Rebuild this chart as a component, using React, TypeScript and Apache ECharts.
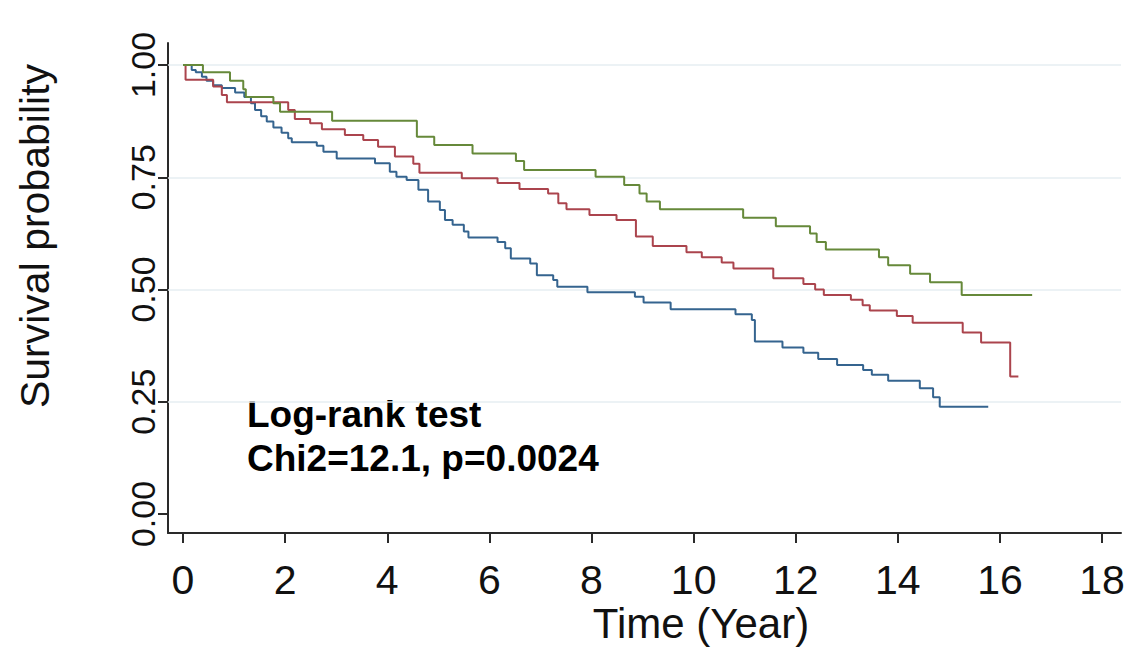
import React, { useEffect, useRef } from "react";
import * as echarts from "echarts";

const xTicks = [0, 2, 4, 6, 8, 10, 12, 14, 16, 18];
const yTicks = [0, 0.25, 0.5, 0.75, 1];
const gridValues = [0.25, 0.5, 0.75, 1];

const blueTimes = [0, 0.17, 0.25, 0.37, 0.46, 0.59, 0.76, 1.02, 1.2, 1.33, 1.41, 1.53, 1.64, 1.77, 1.93, 2.06, 2.13, 2.62, 2.75, 3.01, 3.76, 4.05, 4.18, 4.38, 4.61, 4.8, 5.03, 5.13, 5.28, 5.5, 5.59, 6.16, 6.31, 6.42, 6.8, 6.93, 7.25, 7.33, 7.92, 8.85, 9.02, 9.55, 10.82, 11.14, 11.2, 11.74, 12.15, 12.44, 12.81, 13.32, 13.49, 13.81, 14.43, 14.69, 14.82, 15.77];
const blueSurv = [1.0, 0.989, 0.984, 0.974, 0.965, 0.955, 0.949, 0.939, 0.929, 0.915, 0.9, 0.886, 0.874, 0.861, 0.849, 0.837, 0.828, 0.82, 0.807, 0.792, 0.781, 0.762, 0.751, 0.744, 0.722, 0.696, 0.677, 0.655, 0.644, 0.629, 0.616, 0.606, 0.592, 0.569, 0.558, 0.532, 0.521, 0.506, 0.494, 0.484, 0.471, 0.456, 0.445, 0.432, 0.384, 0.371, 0.359, 0.345, 0.332, 0.321, 0.31, 0.297, 0.28, 0.26, 0.239, 0.239];

const redTimes = [0, 0.05, 0.59, 0.76, 0.86, 2.06, 2.19, 2.49, 2.72, 3.17, 3.53, 3.82, 4.15, 4.51, 4.63, 5.46, 6.16, 6.59, 7.15, 7.35, 7.51, 7.96, 8.49, 8.87, 9.2, 9.86, 10.16, 10.55, 10.78, 11.56, 12.15, 12.38, 12.55, 13.08, 13.31, 13.45, 13.98, 14.29, 15.27, 15.63, 16.2, 16.36];
const redSurv = [1.0, 0.967, 0.952, 0.933, 0.917, 0.9, 0.88, 0.87, 0.857, 0.844, 0.833, 0.818, 0.796, 0.78, 0.76, 0.748, 0.737, 0.724, 0.714, 0.692, 0.679, 0.666, 0.655, 0.618, 0.597, 0.583, 0.572, 0.56, 0.547, 0.525, 0.512, 0.5, 0.488, 0.477, 0.465, 0.453, 0.441, 0.426, 0.404, 0.382, 0.306, 0.306];

const greenTimes = [0, 0.39, 0.92, 1.18, 1.23, 1.77, 1.9, 2.92, 4.58, 4.92, 5.67, 6.52, 6.68, 8.08, 8.64, 8.94, 9.08, 9.34, 10.97, 11.61, 12.28, 12.41, 12.59, 13.63, 13.81, 14.24, 14.63, 15.25, 16.63];
const greenSurv = [1.0, 0.984, 0.965, 0.946, 0.929, 0.915, 0.896, 0.876, 0.84, 0.822, 0.803, 0.786, 0.766, 0.751, 0.733, 0.714, 0.696, 0.679, 0.66, 0.641, 0.625, 0.606, 0.589, 0.572, 0.554, 0.535, 0.516, 0.488, 0.488];

const groups = [
  { name: "Group 1", times: blueTimes, surv: blueSurv, color: "#35648f" },
  { name: "Group 2", times: redTimes, surv: redSurv, color: "#ab444d" },
  { name: "Group 3", times: greenTimes, surv: greenSurv, color: "#66893a" },
];

const xTitle = "Time (Year)";
const yTitle = "Survival probability";
const noteLine1 = "Log-rank test";
const noteLine2 = "Chi2=12.1, p=0.0024";

const FONT = "'Liberation Sans', Arial, Helvetica, sans-serif";
const AXIS_COLOR = "#2a2a2a";

export default function App() {
  const ref = useRef<HTMLDivElement>(null);

  useEffect(() => {
    if (!ref.current) return;
    const chart = echarts.init(ref.current, null, { renderer: "svg" });

    const series: any[] = [
      {
        type: "line",
        data: [],
        silent: true,
        z: 1,
        markLine: {
          silent: true,
          z: 1,
          symbol: "none",
          label: { show: false },
          lineStyle: { color: "#e6eef2", width: 1.5, type: "solid" },
          data: gridValues.map((v) => ({ yAxis: v })),
        },
      },
      ...groups.map((g) => ({
        type: "line",
        name: g.name,
        step: "end",
        showSymbol: false,
        symbol: "none",
        z: 6,
        lineStyle: { color: g.color, width: 2 },
        itemStyle: { color: g.color },
        data: g.times.map((t, i) => [t, g.surv[i]]),
      })),
    ];

    chart.setOption({
      animation: false,
      backgroundColor: "#ffffff",
      grid: {
        left: 168,
        right: 19,
        top: 43,
        bottom: 117,
        containLabel: false,
        outerBoundsMode: "none",
      },
      xAxis: {
        type: "value",
        min: -0.294,
        max: 18.37,
        axisLine: { show: true, onZero: false, lineStyle: { color: AXIS_COLOR, width: 2 } },
        axisTick: {
          show: true,
          length: 10,
          customValues: xTicks,
          lineStyle: { color: AXIS_COLOR, width: 2 },
        },
        axisLabel: {
          customValues: xTicks,
          fontSize: 41,
          fontFamily: FONT,
          color: "#111",
          margin: 26,
          formatter: (v: number) => String(v),
        },
        splitLine: { show: false },
      },
      yAxis: {
        type: "value",
        min: -0.0423,
        max: 1.049,
        axisLine: { show: true, onZero: false, lineStyle: { color: AXIS_COLOR, width: 2 } },
        axisTick: {
          show: true,
          length: 10,
          customValues: yTicks,
          lineStyle: { color: AXIS_COLOR, width: 2 },
        },
        axisLabel: {
          customValues: yTicks,
          rotate: 90,
          fontSize: 34,
          fontFamily: FONT,
          color: "#111",
          margin: 8,
          formatter: (v: number) => v.toFixed(2),
        },
        splitLine: { show: false },
      },
      graphic: [
        {
          type: "text",
          x: 35,
          y: 236,
          rotation: Math.PI / 2,
          style: {
            text: yTitle,
            fontSize: 41,
            fontFamily: FONT,
            fill: "#111",
            textAlign: "center",
            textVerticalAlign: "middle",
          },
        },
        {
          type: "text",
          x: 701,
          y: 623,
          style: {
            text: xTitle,
            fontSize: 42,
            fontFamily: FONT,
            fill: "#111",
            textAlign: "center",
            textVerticalAlign: "middle",
          },
        },
        {
          type: "text",
          x: 247,
          y: 414,
          style: {
            text: noteLine1,
            fontSize: 37,
            fontWeight: "bold",
            fontFamily: FONT,
            fill: "#000",
            textAlign: "left",
            textVerticalAlign: "middle",
          },
        },
        {
          type: "text",
          x: 247,
          y: 458,
          style: {
            text: noteLine2,
            fontSize: 37,
            fontWeight: "bold",
            fontFamily: FONT,
            fill: "#000",
            textAlign: "left",
            textVerticalAlign: "middle",
          },
        },
      ],
      series,
    });

    return () => chart.dispose();
  }, []);

  return (
    <div
      ref={ref}
      style={{ position: "absolute", left: 0, top: 0, width: 1140, height: 650 }}
    />
  );
}
